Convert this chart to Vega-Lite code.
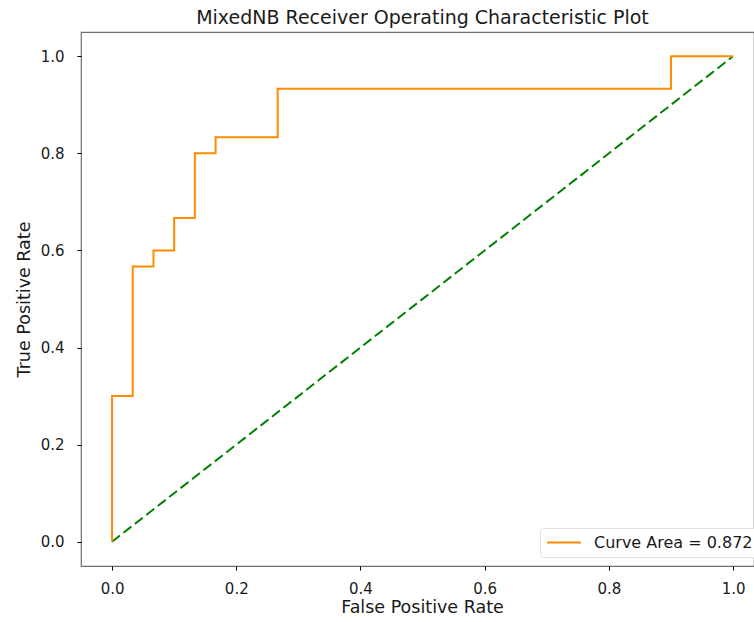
{
  "$schema": "https://vega.github.io/schema/vega-lite/v6.json",
  "width": 673,
  "height": 534,
  "autosize": {"type": "none"},
  "padding": {"left": 81, "top": 32, "right": 0, "bottom": 56},
  "background": "white",
  "title": {
    "text": "MixedNB Receiver Operating Characteristic Plot",
    "font": "DejaVu Sans",
    "fontSize": 19,
    "fontWeight": "normal",
    "color": "#1a1a1a",
    "offset": 4,
    "dx": 5
  },
  "config": {
    "font": "DejaVu Sans",
    "view": {"stroke": "#6e6e6e", "strokeWidth": 1.2},
    "axis": {
      "domain": false,
      "grid": false,
      "tickColor": "#000000",
      "tickSize": 4,
      "tickWidth": 1,
      "labelFont": "DejaVu Sans",
      "labelFontSize": 15,
      "labelColor": "#1a1a1a",
      "titleFont": "DejaVu Sans",
      "titleFontSize": 17.5,
      "titleFontWeight": "normal",
      "titleColor": "#1a1a1a"
    },
    "legend": {
      "labelFont": "DejaVu Sans",
      "labelFontSize": 16,
      "labelColor": "#1a1a1a"
    }
  },
  "datasets": {
    "roc": [
      {"fpr": 0.0, "tpr": 0.0},
      {"fpr": 0.0, "tpr": 0.3},
      {"fpr": 0.0333, "tpr": 0.5667},
      {"fpr": 0.0667, "tpr": 0.6},
      {"fpr": 0.1, "tpr": 0.6667},
      {"fpr": 0.1333, "tpr": 0.8},
      {"fpr": 0.1667, "tpr": 0.8333},
      {"fpr": 0.2667, "tpr": 0.9333},
      {"fpr": 0.9, "tpr": 1.0},
      {"fpr": 1.0, "tpr": 1.0}
    ],
    "diag": [
      {"fpr": 0.0, "tpr": 0.0},
      {"fpr": 1.0, "tpr": 1.0}
    ]
  },
  "layer": [
    {
      "data": {"name": "diag"},
      "mark": {"type": "line", "color": "#008000", "strokeWidth": 2, "strokeDash": [10, 4.5]},
      "encoding": {
        "x": {
          "field": "fpr", "type": "quantitative",
          "scale": {"domain": [-0.05, 1.0337], "nice": false, "zero": false},
          "axis": {"values": [0, 0.2, 0.4, 0.6, 0.8, 1.0], "format": ".1f", "title": "False Positive Rate", "labelPadding": 11, "titlePadding": 2, "titleX": 341}
        },
        "y": {
          "field": "tpr", "type": "quantitative",
          "scale": {"domain": [-0.05, 1.05], "nice": false, "zero": false},
          "axis": {"values": [0, 0.2, 0.4, 0.6, 0.8, 1.0], "format": ".1f", "title": "True Positive Rate", "labelPadding": 13, "titlePadding": 7}
        }
      }
    },
    {
      "data": {"name": "roc"},
      "mark": {"type": "line", "strokeWidth": 2, "interpolate": "step-after"},
      "encoding": {
        "x": {"field": "fpr", "type": "quantitative"},
        "y": {"field": "tpr", "type": "quantitative"},
        "color": {
          "datum": "Curve Area = 0.872",
          "type": "nominal",
          "scale": {"range": ["#ff8c00"]},
          "legend": {
            "title": null,
            "orient": "none",
            "legendX": 459,
            "legendY": 496,
            "symbolType": "stroke",
            "symbolStrokeWidth": 2,
            "symbolSize": 1156,
            "clipHeight": 17,
            "strokeColor": "#e0e0e0",
            "fillColor": "#ffffff",
            "cornerRadius": 3,
            "padding": 6,
            "labelOffset": 12
          }
        }
      }
    }
  ]
}
